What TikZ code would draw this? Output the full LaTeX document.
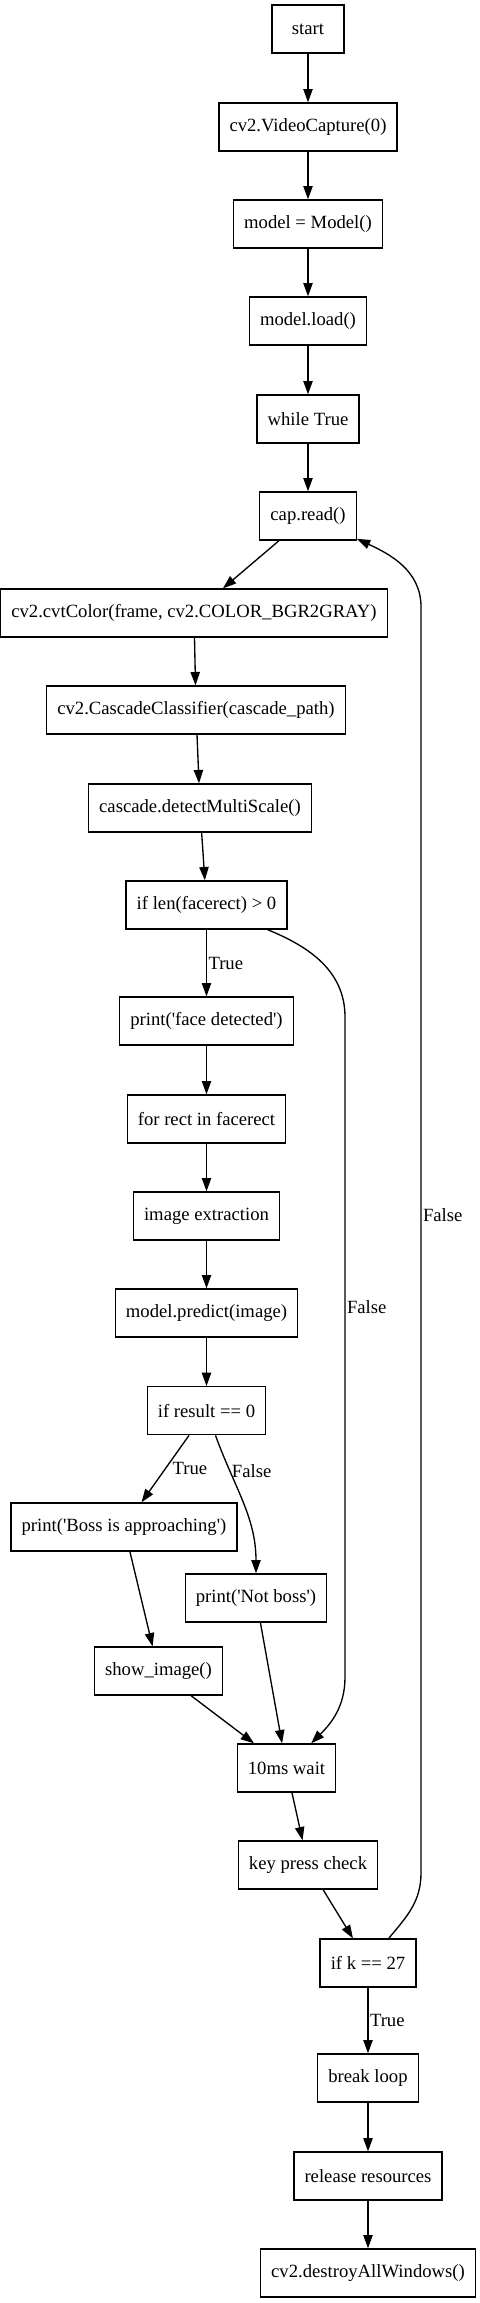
\documentclass[tikz,border=0pt]{standalone}
\usepackage{fontspec}
\setmainfont{Liberation Serif}[Ligatures=TeXOff]
\usetikzlibrary{arrows.meta}

\begin{document}
\begin{tikzpicture}[x=0.75pt,y=0.75pt,
  box/.style={draw,line width=1pt,minimum width=54pt,minimum height=36pt,inner xsep=8pt,font=\fontsize{14}{16}\selectfont},
  edge/.style={line width=1pt,-{Triangle[length=10pt,width=7pt]}},
  lbl/.style={anchor=west,inner sep=1pt,font=\fontsize{14}{16}\selectfont}]
\useasboundingbox (0,0) rectangle (479,-2303);

\node[box] (Start) at (308,-29) {start};
\node[box] (Cap) at (308,-127) {cv2.VideoCapture(0)};
\node[box] (Mdl) at (308,-224) {model = Model()};
\node[box] (Load) at (308,-321) {model.load()};
\node[box] (Loop) at (308,-419) {while True};
\node[box] (Read) at (308,-516) {cap.read()};
\node[box] (Gray) at (194,-613) {cv2.cvtColor(frame, cv2.COLOR\_BGR2GRAY)};
\node[box] (Casc) at (196,-710) {cv2.CascadeClassifier(cascade\_path)};
\node[box] (Det) at (200,-808) {cascade.detectMultiScale()};
\node[box] (IfLen) at (206.5,-905) {if len(facerect) > 0};
\node[box] (Face) at (206.5,-1021) {print('face detected')};
\node[box] (ForR) at (206.5,-1119) {for rect in facerect};
\node[box] (Ext) at (206.5,-1216) {image extraction};
\node[box] (Pred) at (206.5,-1313) {model.predict(image)};
\node[box] (IfRes) at (206.5,-1410.7) {if result == 0};
\node[box] (Boss) at (124,-1527) {print('Boss is approaching')};
\node[box] (NotB) at (256,-1598) {print('Not boss')};
\node[box] (Show) at (158.5,-1671) {show\_image()};
\node[box] (Wait) at (286.5,-1768) {10ms wait};
\node[box] (Key) at (308,-1865) {key press check};
\node[box] (IfK) at (368,-1963) {if k == 27};
\node[box] (Brk) at (368,-2078) {break loop};
\node[box] (Rel) at (368,-2176) {release resources};
\node[box] (Dest) at (368,-2273) {cv2.destroyAllWindows()};

\coordinate (FalseTop) at (345,-1017);
\coordinate (FalseBot) at (345,-1677);
\coordinate (BackBot) at (421,-1873);
\coordinate (BackTop) at (421,-607);

\draw[edge] (Start) -- (Cap);
\draw[edge] (Cap) -- (Mdl);
\draw[edge] (Mdl) -- (Load);
\draw[edge] (Load) -- (Loop);
\draw[edge] (Loop) -- (Read);
\draw[edge] (Read) -- (Gray);
\draw[edge] (Gray) -- (Casc);
\draw[edge] (Casc) -- (Det);
\draw[edge] (Det) -- (IfLen);
\draw[edge] (IfLen) -- node[lbl]{True} (Face);
\draw[edge] (IfLen) to[out=-22,in=90] (FalseTop) -- node[lbl,pos=0.44]{False} (FalseBot) to[out=-90,in=45] (Wait);
\draw[edge] (Face) -- (ForR);
\draw[edge] (ForR) -- (Ext);
\draw[edge] (Ext) -- (Pred);
\draw[edge] (Pred) -- (IfRes);
\draw[edge] (IfRes) -- node[lbl,xshift=4pt]{True} (Boss);
\draw[edge] (IfRes) to[out=-70,in=90] node[lbl,pos=0.25]{False} (NotB);
\draw[edge] (Boss) -- (Show);
\draw[edge] (NotB) -- (Wait);
\draw[edge] (Show) -- (Wait);
\draw[edge] (Wait) -- (Key);
\draw[edge] (Key) -- (IfK);
\draw[edge] (IfK) -- node[lbl]{True} (Brk);
\draw[edge] (IfK) to[out=50,in=-90] (BackBot) -- node[lbl,pos=0.52]{False} (BackTop) to[out=90,in=-25] (Read);
\draw[edge] (Brk) -- (Rel);
\draw[edge] (Rel) -- (Dest);

\end{tikzpicture}
\end{document}
